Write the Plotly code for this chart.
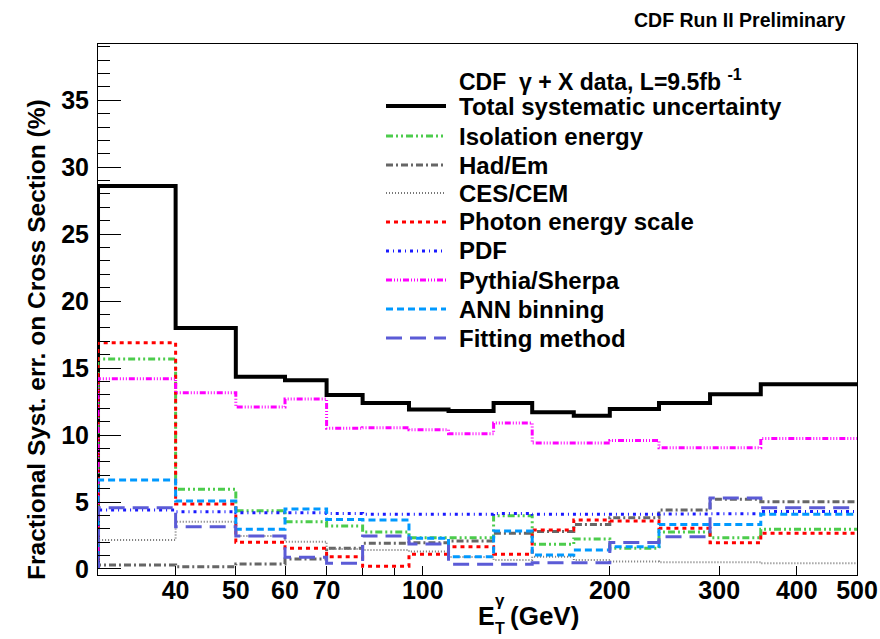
import plotly.graph_objects as go

# Bin edges (GeV)
edges = [30, 40, 50, 60, 70, 80, 95, 110, 130, 150, 175, 200, 240, 290, 350, 500]

total     = [28.6, 18.0, 14.35, 14.1, 13.0, 12.4, 11.9, 11.8, 12.4, 11.7, 11.45, 11.95, 12.4, 13.05, 13.8]
isolation = [15.67, 5.95, 4.35, 3.53, 3.2, 2.76, 2.34, 2.34, 3.98, 1.84, 2.24, 1.54, 2.76, 2.34, 2.96]
hadem     = [0.3, 0.17, 0.37, 0.75, 1.55, 1.92, 1.95, 2.09, 2.66, 2.8, 3.33, 3.83, 4.4, 5.2, 5.02]
cescem    = [2.16, 3.53, 2.46, 2.04, 1.5, 1.42, 1.3, 0.9, 0.67, 0.92, 0.67, 0.55, 0.5, 0.5, 0.42]
escale    = [16.9, 4.85, 1.99, 1.54, 0.92, 0.2, 1.1, 1.66, 1.1, 2.91, 3.66, 3.58, 3.04, 1.96, 2.66]
pdf       = [4.4, 4.28, 4.2, 4.2, 4.15, 4.08, 4.08, 4.08, 4.15, 4.08, 4.08, 4.08, 4.1, 4.12, 4.3]
pythia    = [14.2, 13.15, 12.1, 12.7, 10.5, 10.55, 10.4, 10.1, 10.9, 9.4, 9.4, 9.6, 9.05, 9.05, 9.75]
ann       = [6.64, 5.07, 2.96, 4.48, 3.7, 3.66, 2.29, 0.92, 2.84, 1.04, 1.42, 1.66, 3.33, 3.33, 4.08]
fitting   = [4.58, 3.16, 2.46, 0.87, 0.42, 2.47, 1.87, 0.35, 0.35, 0.47, 0.47, 1.98, 2.41, 5.3, 4.58]

xtickvals = [40, 50, 60, 70, 100, 200, 300, 400, 500]
xticktext = ["40", "50", "60", "70", "100", "200", "300", "400", "500"]
xminorvals = [80, 90]
ytickvals = [0, 5, 10, 15, 20, 25, 30, 35]

series = [
    ("Total systematic uncertainty", total, "#000000", "solid", 4),
    ("Isolation energy", isolation, "#4ccc4c", "7px,3px,2px,3px,2px,3px", 3),
    ("Had/Em", hadem, "#666666", "7px,3px,2px,3px", 3),
    ("CES/CEM", cescem, "#777777", "1px,2px", 2),
    ("Photon energy scale", escale, "#ff0000", "4px,4px", 3),
    ("PDF", pdf, "#1a1aff", "3px,4px,1px,4px", 3),
    ("Pythia/Sherpa", pythia, "#ff00ff", "6px,2px,1px,2px,1px,2px,1px,2px", 3),
    ("ANN binning", ann, "#0099ff", "7px,4px", 3),
    ("Fitting method", fitting, "#5b5bd6", "16px,8px", 3),
]

W, H = 880, 639
L, R, T, B = 98, 857, 44, 575


def px(x):
    return (x - L) / (R - L)


def py(y):
    return (B - y) / (B - T)


fig = go.Figure()
for name, vals, col, dash, w in series:
    xs = [edges[0]] + edges
    ys = [0] + vals + [vals[-1]]
    fig.add_trace(go.Scatter(x=xs, y=ys, mode="lines", name=name,
                             line=dict(color=col, dash=dash, width=w, shape="hv"),
                             showlegend=False, hoverinfo="skip"))

font = "Liberation Sans, Arial, Helvetica, sans-serif"
shapes = []
annotations = []

# Legend (manual, ROOT style)
annotations.append(dict(x=px(457), y=py(80), xref="paper", yref="paper", xanchor="left", yanchor="middle",
                        text="CDF  γ + X data, L=9.5fb <sup>-1</sup>", showarrow=False,
                        font=dict(family=font, size=23, color="black", weight="bold")))
rows = [106, 136, 165, 193, 222, 251, 280, 309, 338]
for (name, vals, col, dash, w), yy in zip(series, rows):
    shapes.append(dict(type="line", xref="paper", yref="paper", x0=px(386), x1=px(446), y0=py(yy), y1=py(yy),
                       line=dict(color=col, dash=dash, width=w)))
    annotations.append(dict(x=px(457), y=py(yy), xref="paper", yref="paper", xanchor="left", yanchor="middle",
                            text=name, showarrow=False,
                            font=dict(family=font, size=24, color="black", weight="bold")))

# Title
annotations.append(dict(x=px(847), y=py(20), xref="paper", yref="paper", xanchor="right", yanchor="middle",
                        text="CDF Run II Preliminary", showarrow=False,
                        font=dict(family=font, size=19.5, color="black", weight="bold")))

# Y axis title
annotations.append(dict(x=px(36), y=py(340), xref="paper", yref="paper", xanchor="center", yanchor="middle",
                        text="Fractional Syst. err. on Cross Section (%)", textangle=-90, showarrow=False,
                        font=dict(family=font, size=24.5, color="black", weight="bold")))

# X axis title: E_T^gamma (GeV)
annotations.append(dict(x=px(476), y=py(616), xref="paper", yref="paper", xanchor="left", yanchor="middle",
                        text="E", showarrow=False, font=dict(family=font, size=25, color="black", weight="bold")))
annotations.append(dict(x=px(493), y=py(600), xref="paper", yref="paper", xanchor="left", yanchor="middle",
                        text="γ", showarrow=False, font=dict(family=font, size=17, color="black", weight="bold")))
annotations.append(dict(x=px(493), y=py(628), xref="paper", yref="paper", xanchor="left", yanchor="middle",
                        text="T", showarrow=False, font=dict(family=font, size=16, color="black", weight="bold")))
annotations.append(dict(x=px(508), y=py(616), xref="paper", yref="paper", xanchor="left", yanchor="middle",
                        text="(GeV)", showarrow=False, font=dict(family=font, size=26, color="black", weight="bold")))

# Longer decade tick at 100
shapes.append(dict(type="line", xref="x", yref="paper", x0=2, x1=2, y0=0, y1=17 / (B - T),
                   line=dict(color="black", width=1)))

fig.update_layout(
    width=W, height=H,
    margin=dict(l=L, r=W - R, t=T, b=H - B, autoexpand=False),
    paper_bgcolor="white", plot_bgcolor="white",
    showlegend=False,
    shapes=shapes, annotations=annotations,
    xaxis=dict(type="log", range=[1.4771, 2.69897], showgrid=False, zeroline=False, automargin=False,
               showline=True, linecolor="black", linewidth=1, mirror=True,
               tickmode="array", tickvals=xtickvals, ticktext=xticktext,
               ticks="inside", ticklen=9, tickcolor="black", tickwidth=1, ticklabelstandoff=-7,
               minor=dict(tickmode="array", tickvals=xminorvals, ticks="inside", ticklen=7,
                          tickcolor="black", tickwidth=1),
               tickfont=dict(family=font, size=25, color="black", weight="bold")),
    yaxis=dict(range=[-0.45, 39.2], showgrid=False, zeroline=False, automargin=False,
               showline=True, linecolor="black", linewidth=1, mirror=True,
               tickmode="array", tickvals=ytickvals,
               ticks="inside", ticklen=23, tickcolor="black", tickwidth=1, ticklabelstandoff=3,
               minor=dict(tickmode="array", tickvals=[i for i in range(0, 40) if i % 5 != 0],
                          ticks="inside", ticklen=12, tickcolor="black", tickwidth=1),
               tickfont=dict(family=font, size=25, color="black", weight="bold")),
)

fig.write_html("out.html")
